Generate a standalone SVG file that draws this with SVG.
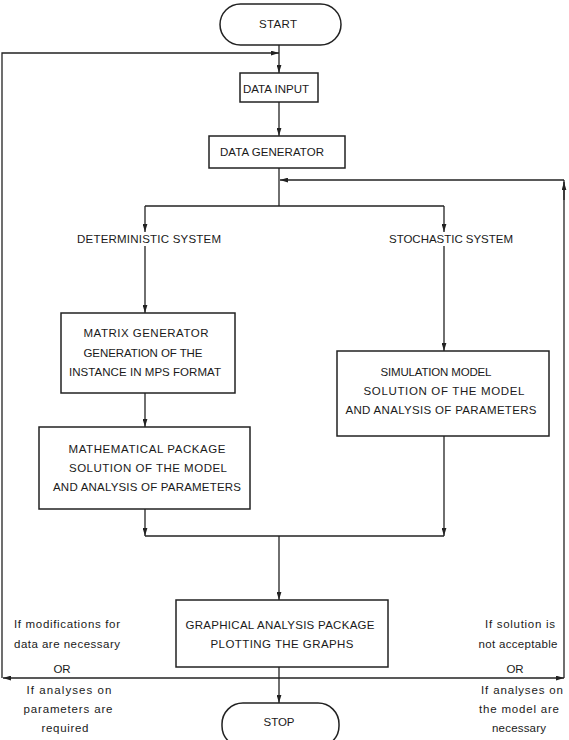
<svg xmlns="http://www.w3.org/2000/svg" width="569" height="740" viewBox="0 0 569 740">
<style>
.box{fill:#fff;stroke:#222;stroke-width:1.5}
.ln{fill:none;stroke:#222;stroke-width:1.3}
text{font-family:"Liberation Sans","DejaVu Sans",sans-serif;font-size:11.5px;fill:#1a1a1a;text-anchor:middle}
</style>
<defs>
<marker id="a" viewBox="0 0 10 6" refX="10" refY="3" markerWidth="8" markerHeight="5" markerUnits="userSpaceOnUse" orient="auto">
<path d="M0,0 L10,3 L0,6 Z" fill="#222"/>
</marker>
</defs>
<rect width="569" height="740" fill="#fff"/>
<g id="connectors">
<path class="ln" d="M279,45 V73" marker-end="url(#a)"/>
<path class="ln" d="M2,678 V53 H279" marker-end="url(#a)"/>
<path class="ln" d="M279,102 V136" marker-end="url(#a)"/>
<path class="ln" d="M279,168 V206"/>
<path class="ln" d="M564,678 V180"/>
<path class="ln" d="M564,200 V182" marker-end="url(#a)"/>
<path class="ln" d="M564,180 H280" marker-end="url(#a)"/>
<path class="ln" d="M145,206 H444"/>
<path class="ln" d="M145,206 V232" marker-end="url(#a)"/>
<path class="ln" d="M444,206 V232" marker-end="url(#a)"/>
<path class="ln" d="M145,246 V313" marker-end="url(#a)"/>
<path class="ln" d="M444,246 V351" marker-end="url(#a)"/>
<path class="ln" d="M145,393 V427" marker-end="url(#a)"/>
<path class="ln" d="M145,509 V536" marker-end="url(#a)"/>
<path class="ln" d="M444,436 V536" marker-end="url(#a)"/>
<path class="ln" d="M145,536 H444"/>
<path class="ln" d="M279,536 V600" marker-end="url(#a)"/>
<path class="ln" d="M279,667 V703" marker-end="url(#a)"/>
<path class="ln" d="M279,678 H3" marker-end="url(#a)"/>
<path class="ln" d="M279,678 H564" marker-end="url(#a)"/>
</g>
<g id="start">
<rect class="box" x="220" y="4" width="121" height="41" rx="20.5"/>
<text x="278" y="28" textLength="38" lengthAdjust="spacing">START</text>
</g>
<g id="data-input">
<rect class="box" x="240" y="73" width="78" height="29"/>
<text x="276" y="93" textLength="66" lengthAdjust="spacing">DATA INPUT</text>
</g>
<g id="data-generator">
<rect class="box" x="209" y="136" width="136" height="32"/>
<text x="272" y="156" textLength="104" lengthAdjust="spacing">DATA  GENERATOR</text>
</g>
<g id="deterministic">
<text x="149" y="243" textLength="144" lengthAdjust="spacing">DETERMINISTIC  SYSTEM</text>
</g>
<g id="stochastic">
<text x="451" y="243" textLength="124" lengthAdjust="spacing">STOCHASTIC SYSTEM</text>
</g>
<g id="matrix-generator">
<rect class="box" x="61" y="313" width="174" height="80"/>
<text x="146" y="337" textLength="125" lengthAdjust="spacing">MATRIX  GENERATOR</text>
<text x="143" y="357" textLength="119" lengthAdjust="spacing">GENERATION OF THE</text>
<text x="145" y="376" textLength="152" lengthAdjust="spacing">INSTANCE  IN MPS FORMAT</text>
</g>
<g id="simulation-model">
<rect class="box" x="337" y="351" width="212" height="85"/>
<text x="436" y="376" textLength="111" lengthAdjust="spacing">SIMULATION  MODEL</text>
<text x="444" y="395" textLength="161" lengthAdjust="spacing">SOLUTION  OF THE MODEL</text>
<text x="441" y="414" textLength="191" lengthAdjust="spacing">AND ANALYSIS OF PARAMETERS</text>
</g>
<g id="mathematical-package">
<rect class="box" x="39" y="427" width="211" height="82"/>
<text x="147" y="453" textLength="157" lengthAdjust="spacing">MATHEMATICAL PACKAGE</text>
<text x="148" y="472" textLength="158" lengthAdjust="spacing">SOLUTION  OF THE MODEL</text>
<text x="147" y="491" textLength="188" lengthAdjust="spacing">AND ANALYSIS OF PARAMETERS</text>
</g>
<g id="graphical-analysis">
<rect class="box" x="176" y="600" width="212" height="67"/>
<text x="280" y="629" textLength="189" lengthAdjust="spacing">GRAPHICAL  ANALYSIS PACKAGE</text>
<text x="282" y="648" textLength="143" lengthAdjust="spacing">PLOTTING  THE GRAPHS</text>
</g>
<g id="stop">
<rect class="box" x="222" y="703" width="117" height="44" rx="21"/>
<text x="279" y="726" textLength="31" lengthAdjust="spacing">STOP</text>
</g>
<g id="left-condition">
<text x="67" y="628" textLength="106" lengthAdjust="spacing">If modifications for</text>
<text x="67" y="648" textLength="106" lengthAdjust="spacing">data are  necessary</text>
<text x="62" y="673">OR</text>
<text x="69" y="694" textLength="85" lengthAdjust="spacing">If analyses  on</text>
<text x="68" y="713" textLength="89" lengthAdjust="spacing">parameters are</text>
<text x="65" y="732" textLength="47" lengthAdjust="spacing">required</text>
</g>
<g id="right-condition">
<text x="520" y="628" textLength="70" lengthAdjust="spacing">If solution  is</text>
<text x="518" y="648" textLength="79" lengthAdjust="spacing">not acceptable</text>
<text x="515" y="673">OR</text>
<text x="522" y="694" textLength="82" lengthAdjust="spacing">If analyses on</text>
<text x="519" y="713" textLength="80" lengthAdjust="spacing">the model are</text>
<text x="519" y="732" textLength="54" lengthAdjust="spacing">necessary</text>
</g>
</svg>
